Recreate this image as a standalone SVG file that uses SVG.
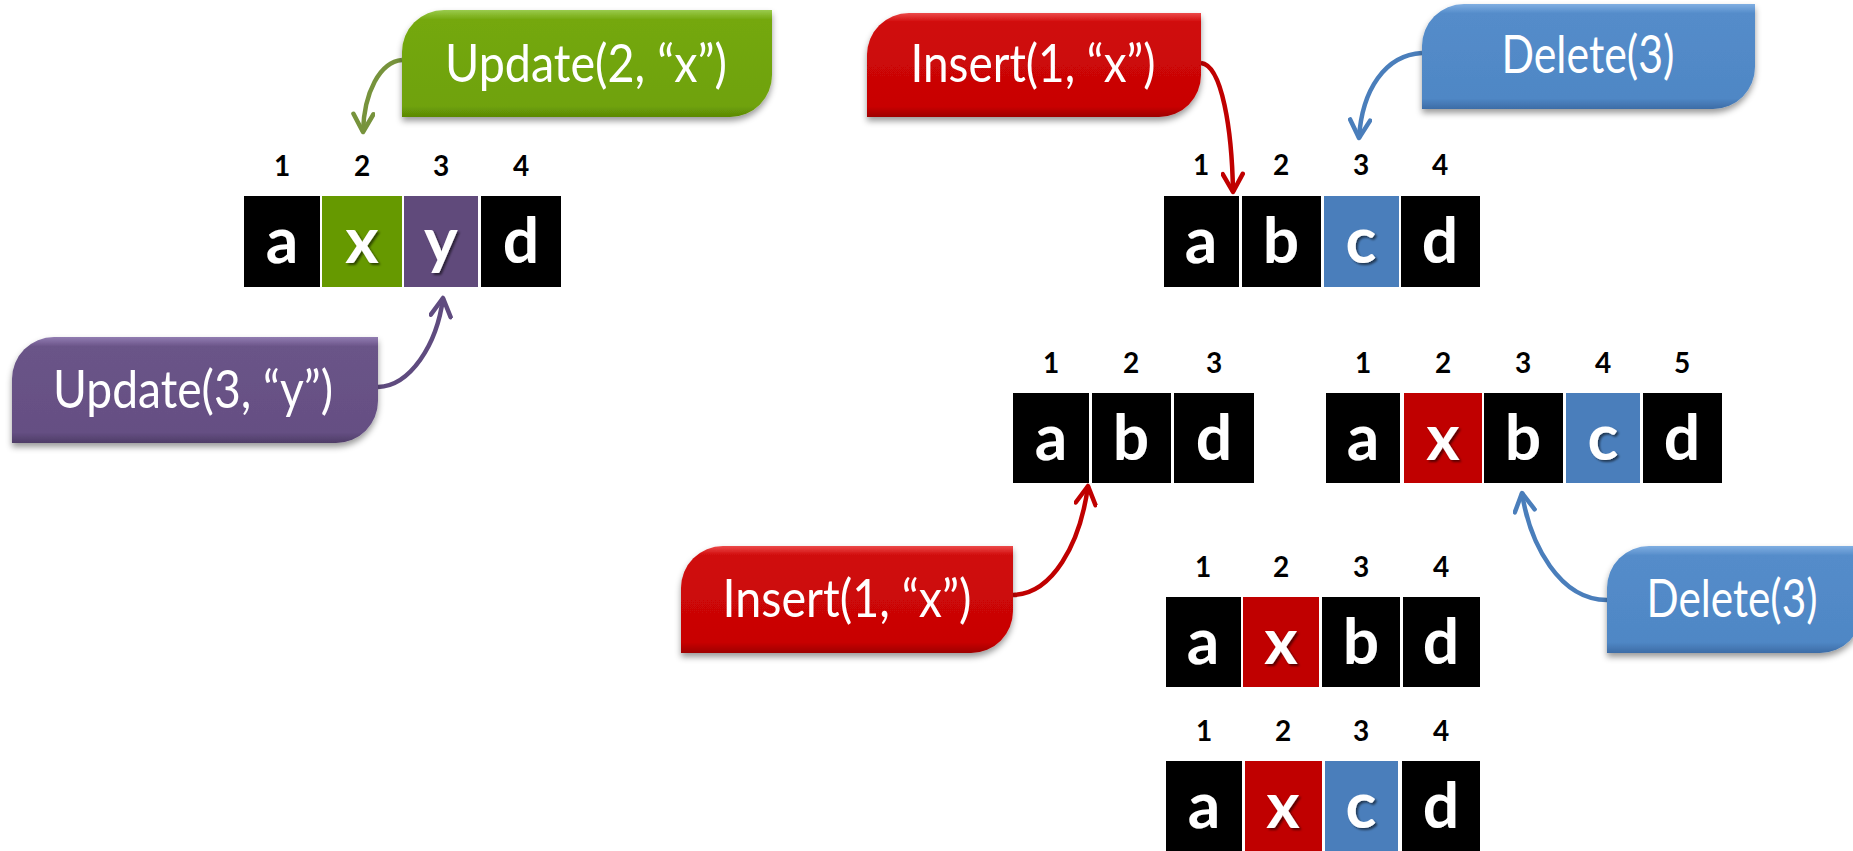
<svg xmlns="http://www.w3.org/2000/svg" width="1853" height="851" viewBox="0 0 1853 851">
<style>
.num{font-family:Lato,"Liberation Sans",sans-serif;font-weight:700;font-size:28px;fill:#000;text-anchor:middle}
.let{font-family:Lato,"Liberation Sans",sans-serif;font-weight:700;font-size:64px;fill:#fff;text-anchor:middle;filter:url(#ts)}
.lbl{font-family:Lato,"Liberation Sans",sans-serif;font-weight:400;font-size:52px;fill:#fff;text-anchor:middle}
.k{fill:#000}.g{fill:#669900}.p{fill:#604a7b}.r{fill:#c00000}.b{fill:#4a7ebb}
.arr{fill:none;stroke-width:4.5}
</style>
<defs>
<filter id="ts" x="-30%" y="-30%" width="160%" height="160%"><feDropShadow dx="2" dy="2" stdDeviation="1.2" flood-color="#000" flood-opacity="0.55"/></filter>
<filter id="sh" x="-10%" y="-20%" width="120%" height="150%"><feDropShadow dx="0" dy="4" stdDeviation="3" flood-color="#000" flood-opacity="0.4"/></filter>
<linearGradient id="gG" x1="0" y1="0" x2="0" y2="1"><stop offset="0" stop-color="#9acb4e"/><stop offset="0.09" stop-color="#74a80c"/><stop offset="0.9" stop-color="#6fa208"/><stop offset="1" stop-color="#5a8805"/></linearGradient>
<linearGradient id="gR" x1="0" y1="0" x2="0" y2="1"><stop offset="0" stop-color="#ec4a4a"/><stop offset="0.09" stop-color="#d00a0a"/><stop offset="0.9" stop-color="#c80404"/><stop offset="1" stop-color="#9e0000"/></linearGradient>
<linearGradient id="gB" x1="0" y1="0" x2="0" y2="1"><stop offset="0" stop-color="#80aee2"/><stop offset="0.09" stop-color="#548cca"/><stop offset="0.9" stop-color="#4f87c5"/><stop offset="1" stop-color="#3c6ca6"/></linearGradient>
<linearGradient id="gP" x1="0" y1="0" x2="0" y2="1"><stop offset="0" stop-color="#927db2"/><stop offset="0.09" stop-color="#6a5488"/><stop offset="0.9" stop-color="#654f83"/><stop offset="1" stop-color="#4e3c67"/></linearGradient>
<marker id="mG" viewBox="0 0 24 24" refX="21" refY="12" markerWidth="24" markerHeight="24" markerUnits="userSpaceOnUse" orient="auto"><path d="M3,2 L21,12 L3,22" fill="none" stroke="#77933c" stroke-width="4.5" stroke-linecap="round" stroke-linejoin="round"/></marker>
<marker id="mP" viewBox="0 0 24 24" refX="21" refY="12" markerWidth="24" markerHeight="24" markerUnits="userSpaceOnUse" orient="auto"><path d="M3,2 L21,12 L3,22" fill="none" stroke="#5f4b7f" stroke-width="4.5" stroke-linecap="round" stroke-linejoin="round"/></marker>
<marker id="mR" viewBox="0 0 24 24" refX="21" refY="12" markerWidth="24" markerHeight="24" markerUnits="userSpaceOnUse" orient="auto"><path d="M3,2 L21,12 L3,22" fill="none" stroke="#c00000" stroke-width="4.5" stroke-linecap="round" stroke-linejoin="round"/></marker>
<marker id="mB" viewBox="0 0 24 24" refX="21" refY="12" markerWidth="24" markerHeight="24" markerUnits="userSpaceOnUse" orient="auto"><path d="M3,2 L21,12 L3,22" fill="none" stroke="#4a7ebb" stroke-width="4.5" stroke-linecap="round" stroke-linejoin="round"/></marker>
</defs>
<rect width="1853" height="851" fill="#fff"/>

<g id="connectors">
<path class="arr" stroke="#77933c" marker-end="url(#mG)" d="M402,60 C380,62 364,92 363,132"/>
<path class="arr" stroke="#5f4b7f" marker-end="url(#mP)" d="M378,387 C410,386 437,345 443,298"/>
<path class="arr" stroke="#c00000" marker-end="url(#mR)" d="M1201,63 C1222,65 1232,130 1233,192"/>
<path class="arr" stroke="#4a7ebb" marker-end="url(#mB)" d="M1422,53 C1385,55 1362,90 1359,138"/>
<path class="arr" stroke="#c00000" marker-end="url(#mR)" d="M1013,595 C1052,594 1080,545 1088,486"/>
<path class="arr" stroke="#4a7ebb" marker-end="url(#mB)" d="M1607,600 C1560,600 1530,545 1522,493"/>
</g>

<g id="callout-update2">
<path filter="url(#sh)" fill="url(#gG)" d="M402,117 V52 A42,42 0 0 1 444,10 H772 V75 A42,42 0 0 1 730,117 Z"/>
<text class="lbl" x="586" y="82" textLength="282" lengthAdjust="spacingAndGlyphs">Update(2, “x”)</text>
</g>
<g id="callout-update3">
<path filter="url(#sh)" fill="url(#gP)" d="M12,443 V379 A42,42 0 0 1 54,337 H378 V401 A42,42 0 0 1 336,443 Z"/>
<text class="lbl" x="193" y="408" textLength="280" lengthAdjust="spacingAndGlyphs">Update(3, “y”)</text>
</g>
<g id="callout-insert-top">
<path filter="url(#sh)" fill="url(#gR)" d="M867,117 V55 A42,42 0 0 1 909,13 H1201 V75 A42,42 0 0 1 1159,117 Z"/>
<text class="lbl" x="1033" y="82" textLength="245" lengthAdjust="spacingAndGlyphs">Insert(1, “x”)</text>
</g>
<g id="callout-delete-top">
<path filter="url(#sh)" fill="url(#gB)" d="M1422,109 V46 A42,42 0 0 1 1464,4 H1755 V67 A42,42 0 0 1 1713,109 Z"/>
<text class="lbl" x="1588" y="73" textLength="173" lengthAdjust="spacingAndGlyphs">Delete(3)</text>
</g>
<g id="callout-insert-bottom">
<path filter="url(#sh)" fill="url(#gR)" d="M681,653 V588 A42,42 0 0 1 723,546 H1013 V611 A42,42 0 0 1 971,653 Z"/>
<text class="lbl" x="847" y="617" textLength="249" lengthAdjust="spacingAndGlyphs">Insert(1, “x”)</text>
</g>
<g id="callout-delete-bottom">
<path filter="url(#sh)" fill="url(#gB)" d="M1607,653 V588 A42,42 0 0 1 1649,546 H1862 V611 A42,42 0 0 1 1820,653 Z"/>
<text class="lbl" x="1732" y="617" textLength="171" lengthAdjust="spacingAndGlyphs">Delete(3)</text>
</g>

<g id="array-left">
<rect class="k" x="244" y="196" width="76" height="91"/><rect class="g" x="322" y="196" width="80" height="91"/><rect class="p" x="404" y="196" width="74" height="91"/><rect class="k" x="481" y="196" width="80" height="91"/>
<text class="num" x="282" y="176">1</text><text class="num" x="362" y="176">2</text><text class="num" x="441" y="176">3</text><text class="num" x="521" y="176">4</text>
<text class="let" x="282" y="263">a</text><text class="let" x="362" y="263">x</text><text class="let" x="441" y="263">y</text><text class="let" x="521" y="263">d</text>
</g>

<g id="array-top-right">
<rect class="k" x="1164" y="196" width="75" height="91"/><rect class="k" x="1242" y="196" width="79" height="91"/><rect class="b" x="1324" y="196" width="75" height="91"/><rect class="k" x="1401" y="196" width="79" height="91"/>
<text class="num" x="1201" y="175">1</text><text class="num" x="1281" y="175">2</text><text class="num" x="1361" y="175">3</text><text class="num" x="1440" y="175">4</text>
<text class="let" x="1201" y="263">a</text><text class="let" x="1281" y="263">b</text><text class="let" x="1361" y="263">c</text><text class="let" x="1440" y="263">d</text>
</g>

<g id="array-mid-left">
<rect class="k" x="1013" y="393" width="76" height="90"/><rect class="k" x="1092" y="393" width="79" height="90"/><rect class="k" x="1174" y="393" width="80" height="90"/>
<text class="num" x="1051" y="373">1</text><text class="num" x="1131" y="373">2</text><text class="num" x="1214" y="373">3</text>
<text class="let" x="1051" y="460">a</text><text class="let" x="1131" y="460">b</text><text class="let" x="1214" y="460">d</text>
</g>

<g id="array-mid-right">
<rect class="k" x="1326" y="393" width="74" height="90"/><rect class="r" x="1404" y="393" width="78" height="90"/><rect class="k" x="1484" y="393" width="79" height="90"/><rect class="b" x="1566" y="393" width="74" height="90"/><rect class="k" x="1643" y="393" width="79" height="90"/>
<text class="num" x="1363" y="373">1</text><text class="num" x="1443" y="373">2</text><text class="num" x="1523" y="373">3</text><text class="num" x="1603" y="373">4</text><text class="num" x="1682" y="373">5</text>
<text class="let" x="1363" y="460">a</text><text class="let" x="1443" y="460">x</text><text class="let" x="1523" y="460">b</text><text class="let" x="1603" y="460">c</text><text class="let" x="1682" y="460">d</text>
</g>

<g id="array-after-insert">
<rect class="k" x="1166" y="597" width="75" height="90"/><rect class="r" x="1243" y="597" width="76" height="90"/><rect class="k" x="1322" y="597" width="78" height="90"/><rect class="k" x="1403" y="597" width="77" height="90"/>
<text class="num" x="1203" y="577">1</text><text class="num" x="1281" y="577">2</text><text class="num" x="1361" y="577">3</text><text class="num" x="1441" y="577">4</text>
<text class="let" x="1203" y="664">a</text><text class="let" x="1281" y="664">x</text><text class="let" x="1361" y="664">b</text><text class="let" x="1441" y="664">d</text>
</g>

<g id="array-final">
<rect class="k" x="1166" y="761" width="76" height="90"/><rect class="r" x="1245" y="761" width="77" height="90"/><rect class="b" x="1325" y="761" width="73" height="90"/><rect class="k" x="1402" y="761" width="78" height="90"/>
<text class="num" x="1204" y="741">1</text><text class="num" x="1283" y="741">2</text><text class="num" x="1361" y="741">3</text><text class="num" x="1441" y="741">4</text>
<text class="let" x="1204" y="828">a</text><text class="let" x="1283" y="828">x</text><text class="let" x="1361" y="828">c</text><text class="let" x="1441" y="828">d</text>
</g>
</svg>
